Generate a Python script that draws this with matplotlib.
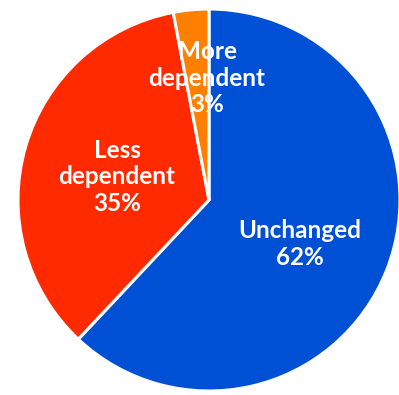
import matplotlib
matplotlib.use('Agg')
import matplotlib.pyplot as plt

# data
labels = ['Unchanged', 'Less\ndependent', 'More\ndependent']
shares = [62, 35, 3]
colors = ['#0050D6', '#FF2A00', '#FF8000']

# label positions in pixel coords (x from left, y from top)
label_xy = [(300, 244), (117, 177), (207, 78)]

W, H = 399, 395
fig = plt.figure(figsize=(W / 100, H / 100), dpi=100)
ax = fig.add_axes([0, 0, 1, 1])

cx, cy, r = 209, 200, 191
ax.pie(shares, colors=colors, startangle=90, counterclock=False,
       center=(cx, H - cy), radius=r,
       wedgeprops=dict(edgecolor='white', linewidth=2.2))

for lab, val, (x, y) in zip(labels, shares, label_xy):
    ax.text(x, H - y, f'{lab}\n{val}%', ha='center', va='center',
            color='white', fontsize=17.5, fontweight='bold',
            family=['Lato', 'DejaVu Sans'], linespacing=1.2)

ax.set_xlim(0, W)
ax.set_ylim(0, H)
ax.set_aspect('equal')
ax.axis('off')

fig.savefig('out.png', dpi=100)
